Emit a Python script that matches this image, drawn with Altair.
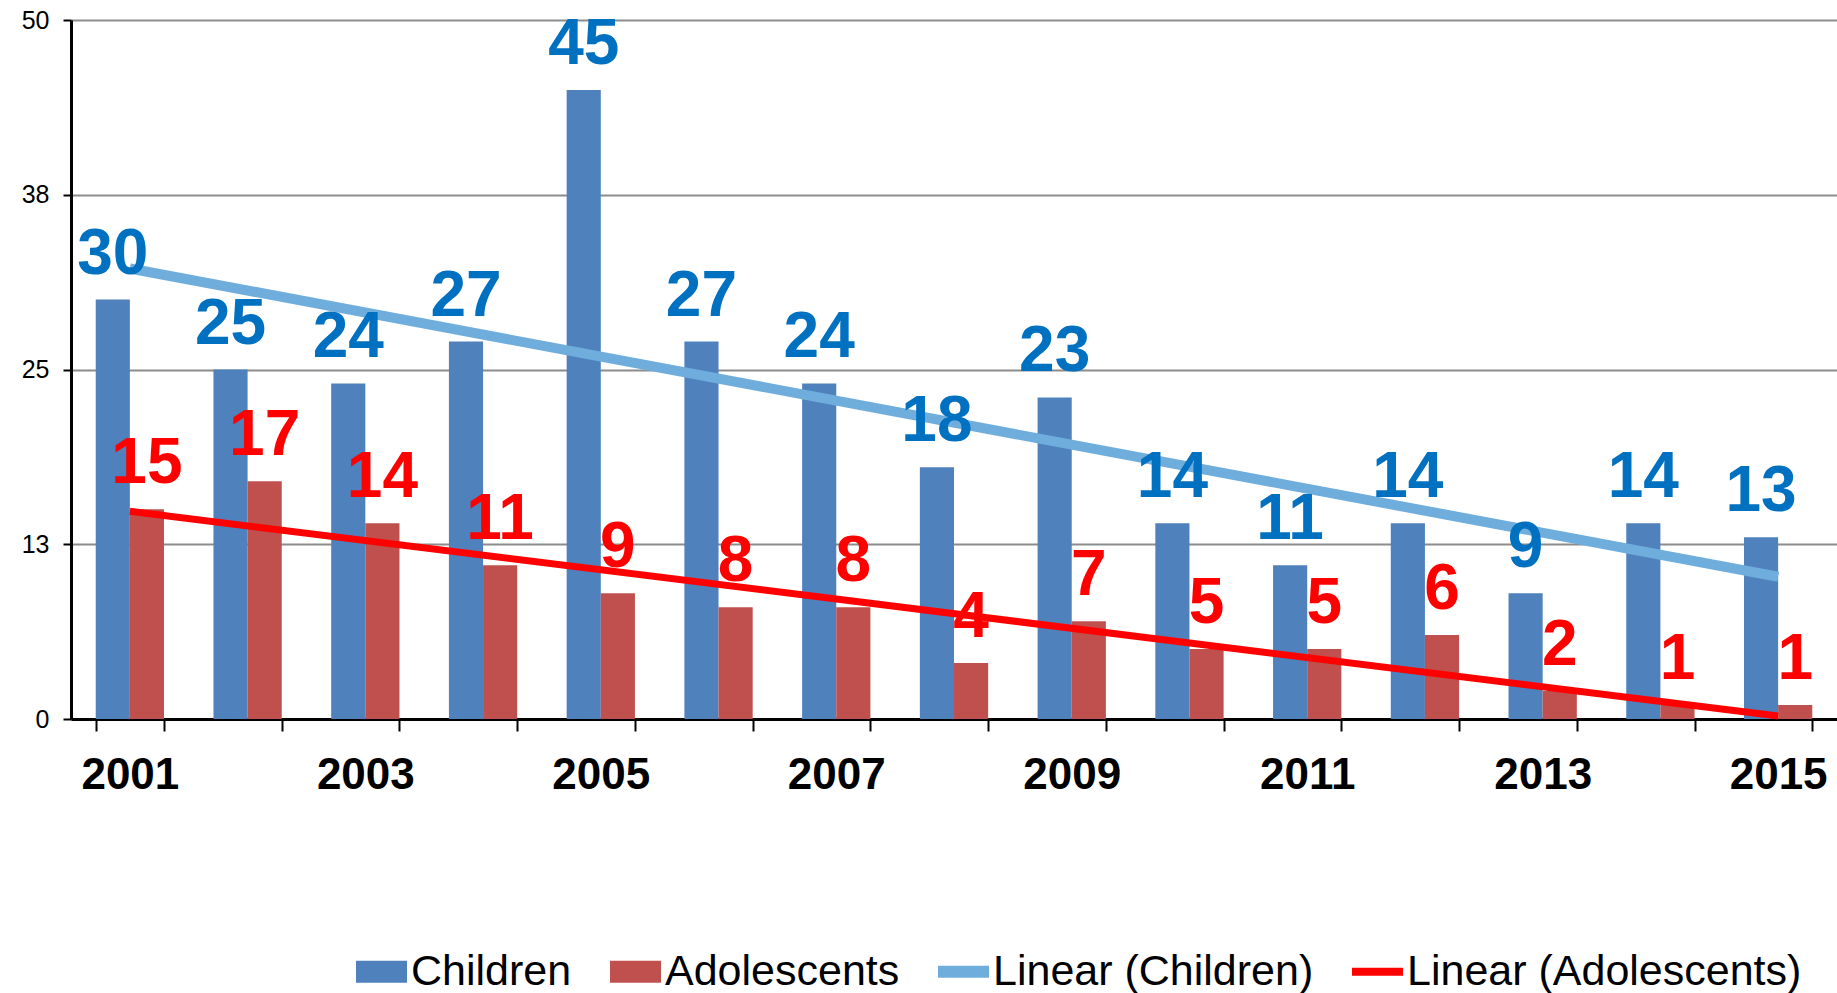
import altair as alt
import pandas as pd

years = ["2001", "2002", "2003", "2004", "2005", "2006", "2007", "2008",
         "2009", "2010", "2011", "2012", "2013", "2014", "2015"]
children = [30, 25, 24, 27, 45, 27, 24, 18, 23, 14, 11, 14, 9, 14, 13]
adolescents = [15, 17, 14, 11, 9, 8, 8, 4, 7, 5, 5, 6, 2, 1, 1]
series_names = ["Children", "Adolescents"]
legend_names = ["Children", "Adolescents", "Linear (Children)", "Linear (Adolescents)"]
y_ticks = [0, 12.5, 25, 37.5, 50]

rows = []
for i, yr in enumerate(years):
    rows.append({"year": yr, "yearnum": int(yr), "series": "Children", "value": children[i]})
    rows.append({"year": yr, "yearnum": int(yr), "series": "Adolescents", "value": adolescents[i]})
df = pd.DataFrame(rows)
legend_df = pd.DataFrame({"series": legend_names})

FONT = "Liberation Sans"
BAR_BLUE = "#4F81BD"
BAR_RED = "#C0504D"
LINE_BLUE = "#6FAEDC"
LINE_RED = "#FF0000"
LABEL_BLUE = "#0070C0"
LABEL_RED = "#FF0000"

x_scale = alt.Scale(domain=years, paddingInner=0.42, paddingOuter=0.21)
y_scale = alt.Scale(domain=[0, 50], nice=False)
off_scale = alt.Scale(domain=series_names, paddingInner=0, paddingOuter=0)

x_axis = alt.Axis(
    title=None, labelAngle=0, grid=False,
    labelExpr="parseInt(datum.value) % 2 == 1 ? datum.value : ''",
    labelFont=FONT, labelFontSize=44, labelFontWeight="bold", labelColor="black",
    tickBand="extent", tickSize=12, tickWidth=2, tickColor="black",
    domainColor="black", domainWidth=3, labelPadding=22,
)
y_axis = alt.Axis(
    title=None, values=y_ticks, format=".0f",
    labelFont=FONT, labelFontSize=25, labelColor="black", labelPadding=14,
    tickSize=8, tickWidth=2, tickColor="black",
    domainColor="black", domainWidth=3,
    grid=True, gridColor="#8C8C8C", gridWidth=2,
)

X = alt.X("year:N", scale=x_scale, axis=x_axis)
XO = alt.XOffset("series:N", scale=off_scale)
Y = alt.Y("value:Q", scale=y_scale, axis=y_axis)

bars = alt.Chart(df).mark_bar().encode(
    x=X, xOffset=XO, y=Y,
    color=alt.condition("datum.series == 'Children'", alt.value(BAR_BLUE), alt.value(BAR_RED)),
)

def trend(name, color, width):
    return alt.Chart(df).transform_filter(
        alt.datum.series == name
    ).transform_regression(
        "yearnum", "value", method="linear"
    ).transform_calculate(
        year="toString(datum.yearnum)"
    ).mark_line(color=color, strokeWidth=width, strokeCap="butt").encode(
        x=alt.X("year:N", scale=x_scale, axis=x_axis),
        y=alt.Y("value:Q", scale=y_scale, axis=y_axis),
    )

trend_children = trend("Children", LINE_BLUE, 10)
trend_adol = trend("Adolescents", LINE_RED, 7)

def labels(name, color):
    return alt.Chart(df).transform_filter(alt.datum.series == name).mark_text(
        font=FONT, fontSize=64, fontWeight="bold", color=color,
        baseline="alphabetic", align="center", dy=-26,
    ).encode(x=X, xOffset=XO, y=Y, text="value:Q")

lab_children = labels("Children", LABEL_BLUE)
lab_adol = labels("Adolescents", LABEL_RED)

legend = alt.Legend(
    title=None, orient="none", legendX=285, legendY=926, direction="horizontal",
    symbolSize=2601, symbolStrokeWidth=0, symbolOpacity=1,
    labelFont=FONT, labelFontSize=43, labelColor="black", labelOffset=4,
    columnPadding=38, padding=0, labelLimit=0,
)
shape_paths = [
    "M-1,-0.43H1V0.43H-1Z",
    "M-1,-0.43H1V0.43H-1Z",
    "M-1,-0.235H1V0.235H-1Z",
    "M-1,-0.157H1V0.157H-1Z",
]
legend_layer = alt.Chart(legend_df).mark_point(filled=True, opacity=0).encode(
    color=alt.Color("series:N", scale=alt.Scale(domain=legend_names,
                    range=[BAR_BLUE, BAR_RED, LINE_BLUE, LINE_RED]), legend=legend),
    shape=alt.Shape("series:N", scale=alt.Scale(domain=legend_names, range=shape_paths),
                    legend=legend),
)

chart = alt.layer(
    bars, trend_children, trend_adol, lab_children, lab_adol, legend_layer
).properties(
    width=1766, height=699,
    autosize=alt.AutoSizeParams(type="none"),
    padding={"left": 71, "top": 20, "right": 0, "bottom": 274},
    background="white",
).configure_view(stroke=None)

chart.save("out.html", embed_options={"renderer": "svg", "actions": False})
